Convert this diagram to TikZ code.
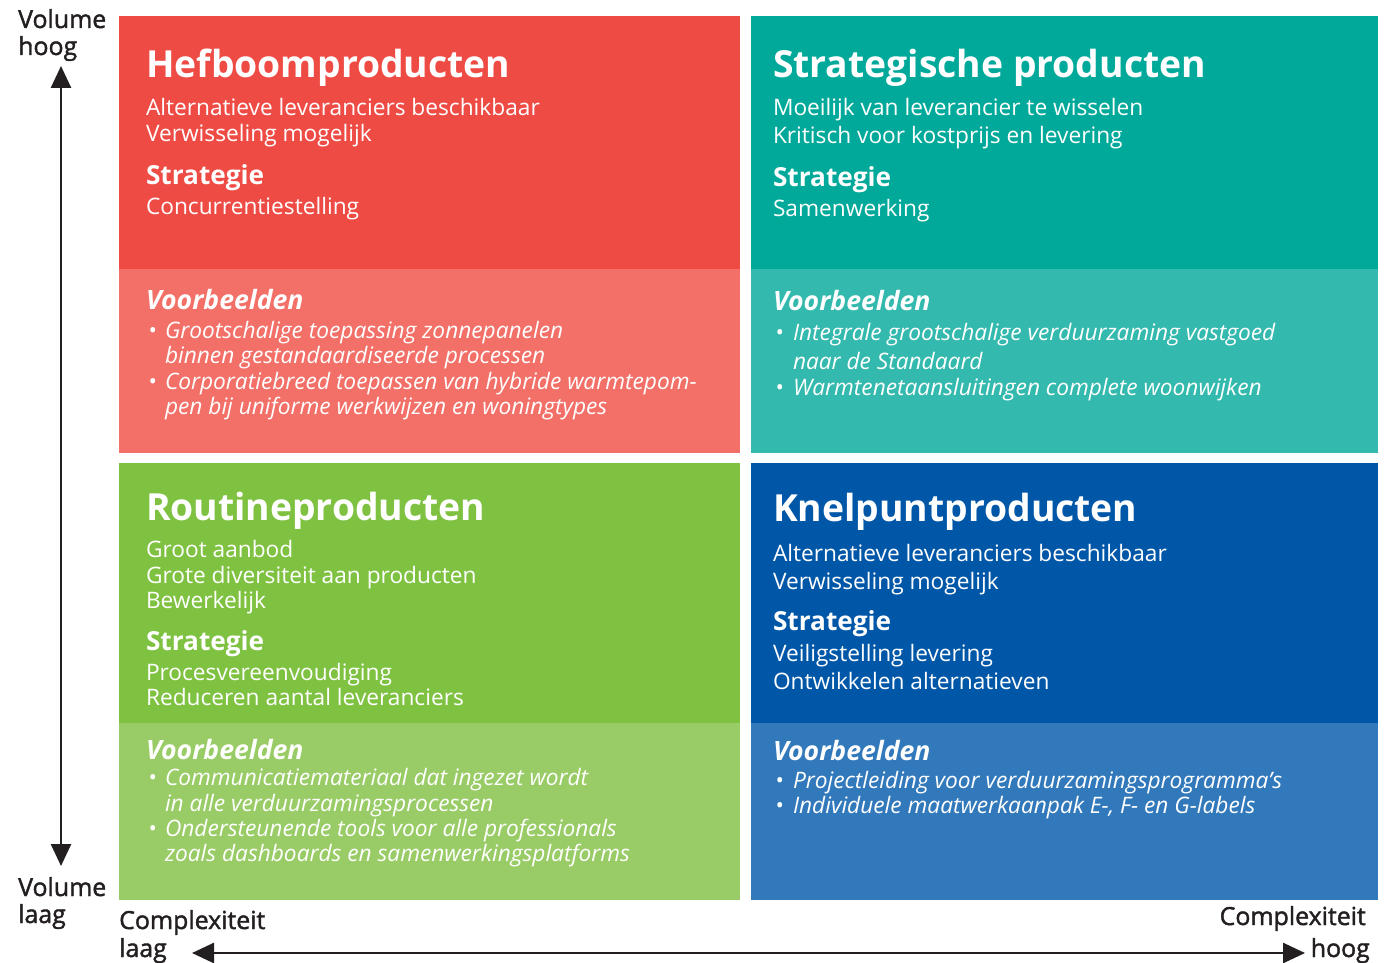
\documentclass[tikz,border=0pt]{standalone}
\usepackage{fontspec}
\setmainfont{Open Sans}
\newfontfamily\semib[FakeBold=1.6]{Open Sans}
\usetikzlibrary{arrows.meta}
\definecolor{redD}{HTML}{EF4B45}
\definecolor{redL}{HTML}{F27068}
\definecolor{tealD}{HTML}{00A99A}
\definecolor{tealL}{HTML}{33B9AD}
\definecolor{greenD}{HTML}{7FC242}
\definecolor{greenL}{HTML}{99CC66}
\definecolor{blueD}{HTML}{0057A8}
\definecolor{blueL}{HTML}{3279BC}
\definecolor{axisc}{HTML}{231F20}
\begin{document}
\begin{tikzpicture}[x=1pt,y=-1pt,
  txt/.style={anchor=base west, inner sep=0pt, outer sep=0pt, text=white},
  title/.style={txt, font=\bfseries\fontsize{37.3}{40}\selectfont},
  body/.style={txt, font=\fontsize{22.7}{26}\selectfont},
  head/.style={txt, font=\bfseries\fontsize{26.2}{30}\selectfont},
  vb/.style={txt, font=\bfseries\itshape\fontsize{26.6}{30}\selectfont},
  ex/.style={txt, font=\itshape\fontsize{22.7}{26}\selectfont},
  axl/.style={anchor=base west, inner sep=0pt, text=axisc, font=\semib\fontsize{24.9}{28}\selectfont},
  axr/.style={anchor=base east, inner sep=0pt, text=axisc, font=\semib\fontsize{24.9}{28}\selectfont},
  axarrow/.style={axisc, line width=2.6pt, {Triangle[length=22pt,width=20pt]}-{Triangle[length=22pt,width=20pt]}}
]
\useasboundingbox (0,0) rectangle (1387,963);
\fill[white] (0,0) rectangle (1387,963);
% boxes
\fill[redD] (119,16) rectangle (740,269);
\fill[redL] (119,269) rectangle (740,453);
\fill[tealD] (751,16) rectangle (1378,269);
\fill[tealL] (751,269) rectangle (1378,453);
\fill[greenD] (119,463) rectangle (740,723);
\fill[greenL] (119,723) rectangle (740,900);
\fill[blueD] (751,463) rectangle (1378,723);
\fill[blueL] (751,723) rectangle (1378,900);

% Hefboomproducten
\node[title] (h1) at (146,78) {Hefboomproducten};
\node[body] (h2) at (146,116) {Alternatieve leveranciers beschikbaar};
\node[body] (h3) at (146,142) {Verwisseling mogelijk};
\node[head] (h4) at (146,184) {Strategie};
\node[body] (h5) at (146,214) {Concurrentiestelling};
\node[vb] (h6) at (146,309) {Voorbeelden};
\node[ex] (h7b) at (148,338) {•};
\node[ex] (h7) at (165,338) {Grootschalige toepassing zonnepanelen};
\node[ex] (h8) at (165,363) {binnen gestandaardiseerde processen};
\node[ex] (h9b) at (148,389) {•};
\node[ex] (h9) at (165,389) {Corporatiebreed toepassen van hybride warmtepom-};
\node[ex] (h10) at (165,414) {pen bij uniforme werkwijzen en woningtypes};

% Strategische producten
\node[title] (s1) at (773,78) {Strategische producten};
\node[body] (s2) at (773,116) {Moeilijk van leverancier te wisselen};
\node[body] (s3) at (773,144) {Kritisch voor kostprijs en levering};
\node[head] (s4) at (773,186) {Strategie};
\node[body] (s5) at (773,216) {Samenwerking};
\node[vb] (s6) at (773,310) {Voorbeelden};
\node[ex] (s7b) at (775,340) {•};
\node[ex] (s7) at (793,340) {Integrale grootschalige verduurzaming vastgoed};
\node[ex] (s8) at (793,369) {naar de Standaard};
\node[ex] (s9b) at (775,395) {•};
\node[ex] (s9) at (793,395) {Warmtenetaansluitingen complete woonwijken};

% Routineproducten
\node[title] (r1) at (146,520) {Routineproducten};
\node[body] (r2) at (146,557) {Groot aanbod};
\node[body] (r3) at (146,583) {Grote diversiteit aan producten};
\node[body] (r4) at (146,608) {Bewerkelijk};
\node[head] (r5) at (146,650) {Strategie};
\node[body] (r6) at (146,680) {Procesvereenvoudiging};
\node[body] (r7) at (146,705) {Reduceren aantal leveranciers};
\node[vb] (r8) at (146,759) {Voorbeelden};
\node[ex] (r9b) at (148,785) {•};
\node[ex] (r9) at (165,785) {Communicatiemateriaal dat ingezet wordt};
\node[ex] (r10) at (165,811) {in alle verduurzamingsprocessen};
\node[ex] (r11b) at (148,836) {•};
\node[ex] (r11) at (165,836) {Ondersteunende tools voor alle professionals};
\node[ex] (r12) at (165,861) {zoals dashboards en samenwerkingsplatforms};

% Knelpuntproducten
\node[title] (k1) at (773,521) {Knelpuntproducten};
\node[body] (k2) at (773,561) {Alternatieve leveranciers beschikbaar};
\node[body] (k3) at (773,589) {Verwisseling mogelijk};
\node[head] (k4) at (773,630) {Strategie};
\node[body] (k5) at (773,661) {Veiligstelling levering};
\node[body] (k6) at (773,689) {Ontwikkelen alternatieven};
\node[vb] (k7) at (773,760) {Voorbeelden};
\node[ex] (k8b) at (775,788) {•};
\node[ex] (k8) at (793,788) {Projectleiding voor verduurzamingsprogramma’s};
\node[ex] (k9b) at (775,813) {•};
\node[ex] (k9) at (793,813) {Individuele maatwerkaanpak E-, F- en G-labels};

% axes
\node[axl] (vh1) at (18,28) {Volume};
\node[axl] (vh2) at (18,55) {hoog};
\node[axl] (vl1) at (18,896) {Volume};
\node[axl] (vl2) at (18,923) {laag};
\node[axl] (cl1) at (119,929) {Complexiteit};
\node[axl] (cl2) at (119,957) {laag};
\node[axr] (ch1) at (1366,925) {Complexiteit};
\node[axr] (ch2) at (1370,957) {hoog};
\coordinate (vtop) at (61,66);
\coordinate (vbot) at (61,866);
\coordinate (hl) at (192,953);
\coordinate (hr) at (1305,953);
\draw[axarrow] (vtop) -- (vbot);
\draw[axarrow] (hl) -- (hr);
\end{tikzpicture}
\end{document}
